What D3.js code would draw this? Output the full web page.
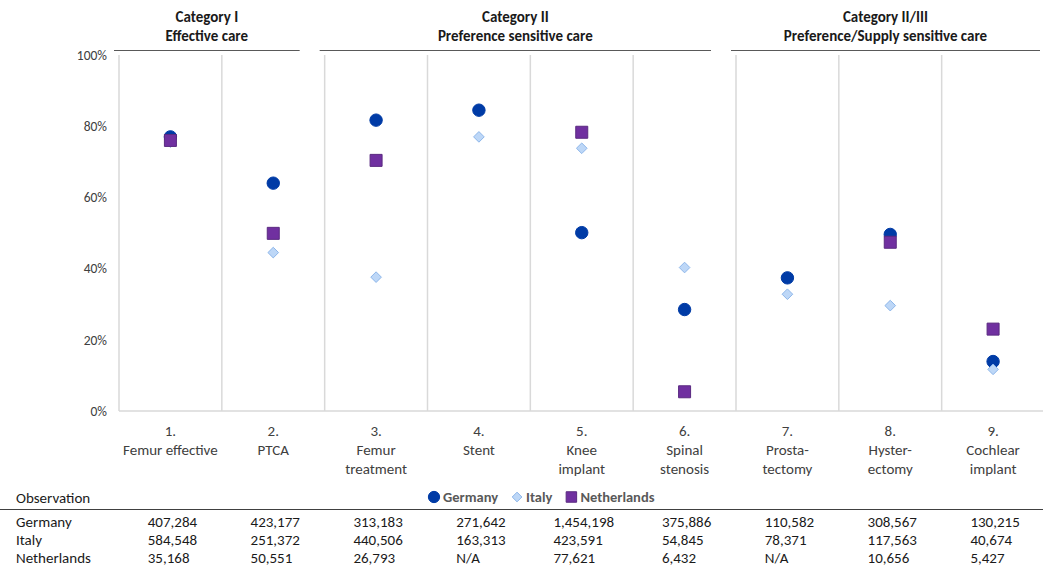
<!DOCTYPE html>
<html><head><meta charset="utf-8">
<script src="https://cdn.jsdelivr.net/npm/d3@7"></script>
<style>
body{margin:0;background:#fff;}
svg{display:block;font-family:Carlito,Lato,"Open Sans",sans-serif;}
</style></head>
<body><svg id="c" width="1043" height="571"></svg>
<script>
const categories = ["1.|Femur effective","2.|PTCA","3.|Femur|treatment","4.|Stent","5.|Knee|implant","6.|Spinal|stenosis","7.|Prosta-|tectomy","8.|Hyster-|ectomy","9.|Cochlear|implant"];
const seriesNames = ["Germany","Italy","Netherlands"];
const germany = [77, 64, 81.7, 84.5, 50.1, 28.5, 37.4, 49.6, 13.9];
const italy = [75.5, 44.5, 37.6, 77, 73.8, 40.3, 32.8, 29.6, 11.7];
const netherlands = [76, 49.9, 70.4, null, 78.3, 5.4, null, 47.4, 23.0];
const yTicks = [0, 20, 40, 60, 80, 100];
const groups = [
  {title:"Category I", sub:"Effective care", from:0, to:1},
  {title:"Category II", sub:"Preference sensitive care", from:2, to:5},
  {title:"Category II/III", sub:"Preference/Supply sensitive care", from:6, to:8}
];
const obsGermany = ["407,284","423,177","313,183","271,642","1,454,198","375,886","110,582","308,567","130,215"];
const obsItaly = ["584,548","251,372","440,506","163,313","423,591","54,845","78,371","117,563","40,674"];
const obsNetherlands = ["35,168","50,551","26,793","N/A","77,621","6,432","N/A","10,656","5,427"];

const svg = d3.select("#c");
const x = d3.scaleBand().domain(d3.range(categories.length)).range([119, 1044.5]).padding(0);
const y = d3.scaleLinear().domain([0, 100]).range([411, 55]);
const textCol = "#404040";

// vertical gridlines
svg.append("g").selectAll("line").data(d3.range(categories.length)).join("line")
  .attr("x1", d => x(d)).attr("x2", d => x(d))
  .attr("y1", y(100)).attr("y2", y(0))
  .attr("stroke", "#d9d9d9").attr("stroke-width", 1.5);
// bottom axis line
svg.append("line").attr("x1", 119).attr("x2", 1043).attr("y1", y(0)).attr("y2", y(0))
  .attr("stroke", "#d9d9d9").attr("stroke-width", 1.5);

// y axis labels
const yAxis = d3.axisLeft(y).tickValues(yTicks).tickFormat(d => d + "%").tickSize(0).tickPadding(12);
const ya = svg.append("g").attr("transform", "translate(119,0)").call(yAxis);
ya.select(".domain").remove();
ya.selectAll("text").attr("font-size", 13.5).attr("fill", textCol).attr("font-family", "Carlito,Lato,sans-serif");

// x labels
categories.forEach((c, i) => {
  const lines = c.split("|");
  const t = svg.append("text").attr("text-anchor", "middle").attr("font-size", 15).attr("fill", textCol)
    .attr("x", x(i) + x.bandwidth() / 2);
  lines.forEach((l, j) => t.append("tspan").attr("x", x(i) + x.bandwidth() / 2).attr("y", 436 + j * 19).text(l));
});

// group headers
groups.forEach(g => {
  const x0 = g.from === 0 ? 114 : x(g.from) - 5;
  const x1 = g.to === 8 ? 1040 : x(g.to) + x.bandwidth() - 25;
  const mid = (x0 + x1) / 2;
  svg.append("line").attr("x1", x0).attr("x2", x1)
    .attr("y1", 50.5).attr("y2", 50.5).attr("stroke", "#595959").attr("stroke-width", 1.2);
  svg.append("text").attr("x", mid).attr("y", 22).attr("text-anchor", "middle").attr("font-weight", "bold")
    .attr("font-size", 15).attr("fill", "#1a1a1a").text(g.title);
  svg.append("text").attr("x", mid).attr("y", 40.5).attr("text-anchor", "middle").attr("font-weight", "bold")
    .attr("font-size", 15).attr("fill", "#1a1a1a").text(g.sub);
});

// markers
const cx = i => x(i) + x.bandwidth() / 2;
const sym = {
  Germany: d3.symbol().type(d3.symbolCircle).size(Math.PI * 6.2 * 6.2),
  Italy: d3.symbol().type(d3.symbolDiamond2).size(72),
  Netherlands: d3.symbol().type(d3.symbolSquare).size(144)
};
const styles = {
  Germany: {fill: "#003BA6", stroke: "#003BA6"},
  Italy: {fill: "#BDD7F7", stroke: "#8DB6EA"},
  Netherlands: {fill: "#7030A0", stroke: "#5A2A80"}
};
const seriesData = {Germany: germany, Italy: italy, Netherlands: netherlands};
seriesNames.forEach(s => {
  svg.append("g").selectAll("path").data(seriesData[s].map((v, i) => ({v, i})).filter(d => d.v != null)).join("path")
    .attr("d", sym[s]).attr("transform", d => `translate(${cx(d.i)},${y(d.v)})`)
    .attr("fill", styles[s].fill).attr("stroke", styles[s].stroke).attr("stroke-width", 1);
});

// legend
const legendY = 497;
const leg = svg.append("g");
let lx = 434;
seriesNames.forEach(s => {
  leg.append("path").attr("d", d3.symbol().type(s === "Germany" ? d3.symbolCircle : s === "Italy" ? d3.symbolDiamond2 : d3.symbolSquare)
      .size(s === "Germany" ? 100 : s === "Italy" ? 60 : 110))
    .attr("transform", `translate(${lx},${legendY})`)
    .attr("fill", styles[s].fill).attr("stroke", styles[s].stroke);
  const t = leg.append("text").attr("x", lx + 9).attr("y", legendY + 5).attr("font-size", 14.5).attr("font-weight", "bold")
    .attr("fill", "#595959").text(s);
  lx = lx + 9 + t.node().getComputedTextLength() + 19;
});

// observation table
svg.append("text").attr("x", 16).attr("y", 503).attr("font-size", 15).attr("fill", "#1a1a1a").text("Observation");
svg.append("line").attr("x1", 0).attr("x2", 1043).attr("y1", 509.5).attr("y2", 509.5).attr("stroke", "#404040").attr("stroke-width", 1.2);
const rows = [["Germany", obsGermany], ["Italy", obsItaly], ["Netherlands", obsNetherlands]];
rows.forEach((r, ri) => {
  svg.append("text").attr("x", 16).attr("y", 527 + ri * 18).attr("font-size", 15).attr("fill", "#1a1a1a").text(r[0]);
});
categories.forEach((c, i) => {
  const g = svg.append("g");
  const ts = rows.map((r, ri) => g.append("text").attr("y", 527 + ri * 18).attr("font-size", 15).attr("fill", "#1a1a1a").text(r[1][i]));
  const w = d3.max(ts, t => t.node().getComputedTextLength());
  ts.forEach(t => t.attr("x", cx(i) - w / 2 + 2));
});
</script></body></html>
